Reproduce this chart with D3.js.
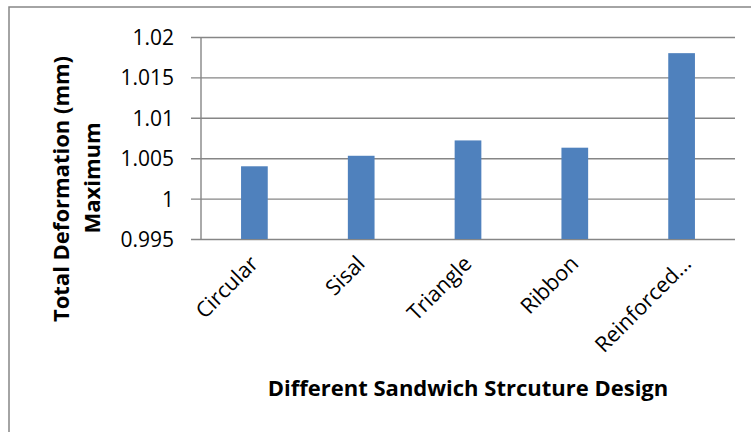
<!DOCTYPE html>
<html>
<head>
<meta charset="utf-8">
<script src="https://cdn.jsdelivr.net/npm/d3@7"></script>
<style>
  html, body { margin: 0; padding: 0; background: #fff; }
  svg { display: block; }
  text { font-family: "Open Sans", sans-serif; fill: #000; }
</style>
</head>
<body>
<svg id="chart" width="751" height="432"></svg>
<script>
const categories = ["Circular", "Sisal", "Triangle", "Ribbon", "Reinforced..."];
const values = [1.0040, 1.0053, 1.0072, 1.0063, 1.0180];
const yTicks = [0.995, 1, 1.005, 1.01, 1.015, 1.02];
const yTitleLines = ["Total Deformation (mm)", "Maximum"];
const xTitle = "Different Sandwich Strcuture Design";

(function () {
const svg = d3.select("#chart");
const pL = 201, pR = 735, pT = 37, pB = 239;

svg.append("rect").attr("x", 9).attr("y", 7).attr("width", 800).attr("height", 500)
  .attr("fill", "#fff").attr("stroke", "#868686").attr("stroke-width", 1.5);

const x = d3.scaleBand().domain(categories).range([pL, pR]).paddingInner(0.75).paddingOuter(0.375);
const y = d3.scaleLinear().domain([0.995, 1.02]).range([pB, pT]);

const yAxis = d3.axisLeft(y).tickValues(yTicks).tickSize(-(pR - pL)).tickPadding(0)
  .tickFormat(d => String(+d.toFixed(3)));
const gy = svg.append("g").attr("transform", `translate(${pL},0)`).call(yAxis);
gy.select(".domain").remove();
gy.selectAll(".tick line").attr("stroke", "#868686").attr("stroke-width", 1.4).attr("x1", -10);
gy.selectAll(".tick text").attr("x", -27).attr("font-size", "21px").attr("dy", "0.36em")
  .attr("fill", "#000").style("font-family", "'Open Sans', sans-serif");

svg.append("line").attr("x1", pL).attr("x2", pL).attr("y1", pT).attr("y2", pB)
  .attr("stroke", "#868686").attr("stroke-width", 1.4);

svg.append("g").selectAll("rect").data(values).join("rect")
  .attr("x", (d, i) => x(categories[i]))
  .attr("width", x.bandwidth())
  .attr("y", d => y(d))
  .attr("height", d => y(0.995) - y(d))
  .attr("fill", "#4F81BD");

const xl = svg.append("g");
categories.forEach((c, i) => {
  const cx = x(c) + x.bandwidth() / 2 + 5 + (i === 4 ? 6 : 0);
  xl.append("text").attr("transform", `translate(${cx},265) rotate(-45)`)
    .attr("text-anchor", "end").attr("font-size", "21.5px").text(c);
});

const yt = svg.append("text").attr("transform", "rotate(-90)")
  .attr("text-anchor", "middle").attr("font-weight", "bold").attr("font-size", "22px");
yt.append("tspan").attr("x", -189).attr("y", 69).text(yTitleLines[0]);
yt.append("tspan").attr("x", -178).attr("y", 100).text(yTitleLines[1]);

svg.append("text").attr("x", 468).attr("y", 396).attr("text-anchor", "middle")
  .attr("font-weight", "bold").attr("font-size", "22px").text(xTitle);
})();
</script>
</body>
</html>
